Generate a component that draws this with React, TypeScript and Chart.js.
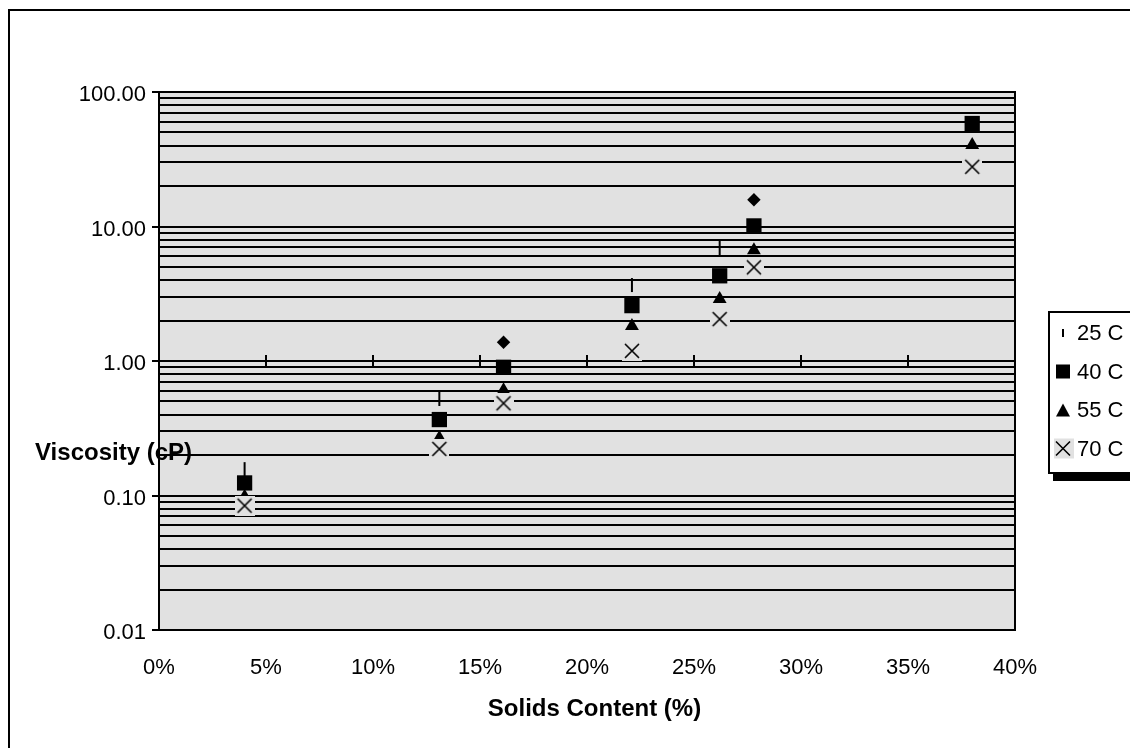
import React, { useEffect, useRef } from 'react';
import { Chart, registerables } from 'chart.js';

Chart.register(...registerables);

// ---- data ----
const SOLIDS_CONTENT = [0.04, 0.131, 0.161, 0.221, 0.262, 0.278, 0.38];
const VISC_25C = [0.157, 0.522, null, 3.67, 6.92, null, null];
const VISC_40C = [0.124, 0.367, 0.898, 2.58, 4.3, 10.1, 58.3];
const VISC_55C = [0.098, 0.268, 0.606, 1.82, 2.89, 6.65, 40.4];
const VISC_70C = [0.084, 0.222, 0.485, 1.19, 2.05, 4.97, 27.8];
const VISC_UNLISTED = [null, null, 1.38, null, null, 15.8, null];
const SERIES_LABELS = ['25 C', '40 C', '55 C', '70 C'];
const Y_MAJOR_TICKS = [0.01, 0.1, 1, 10, 100];
const Y_MINOR_MULTIPLIERS = [2, 3, 4, 5, 6, 7, 8, 9];
const X_MIN = 0;
const X_MAX = 0.4;
const X_STEP = 0.05;
const X_AXIS_CROSSES_AT = 1;
const Y_TITLE = 'Viscosity (cP)';
const X_TITLE = 'Solids Content (%)';

const FONT = '"Liberation Sans", Arial, sans-serif';
const PLOT_BG = '#e1e1e1';

const Y_TICK_VALUES: number[] = [];
Y_MAJOR_TICKS.forEach((m, i) => {
  Y_TICK_VALUES.push(m);
  if (i < Y_MAJOR_TICKS.length - 1) Y_MINOR_MULTIPLIERS.forEach((k) => Y_TICK_VALUES.push(m * k));
});

function toPoints(values: (number | null)[]) {
  const pts: { x: number; y: number }[] = [];
  values.forEach((v, i) => {
    if (v != null) pts.push({ x: SOLIDS_CONTENT[i], y: v });
  });
  return pts;
}

function isMajor(v: number) {
  const l = Math.log10(v);
  return Math.abs(l - Math.round(l)) < 1e-9;
}

function makeCrossMarker(): HTMLCanvasElement {
  const c = document.createElement('canvas');
  c.width = 20;
  c.height = 20;
  const g = c.getContext('2d')!;
  g.fillStyle = PLOT_BG;
  g.fillRect(0, 0, 20, 20);
  g.strokeStyle = '#000';
  g.lineWidth = 1.6;
  g.beginPath();
  g.moveTo(3, 3);
  g.lineTo(17, 17);
  g.moveTo(17, 3);
  g.lineTo(3, 17);
  g.stroke();
  return c;
}

const decorPlugin = {
  id: 'decor',
  beforeDraw(chart: any) {
    const { ctx, chartArea: a } = chart;
    ctx.save();
    ctx.fillStyle = PLOT_BG;
    ctx.fillRect(a.left, a.top, a.right - a.left, a.bottom - a.top);
    ctx.restore();
  },
  beforeDatasetsDraw(chart: any) {
    const { ctx, chartArea: a, scales } = chart;
    const x = scales.x;
    const y = scales.y;
    ctx.save();
    ctx.strokeStyle = '#000';
    ctx.lineWidth = 2;
    ctx.beginPath();
    // plot right border
    ctx.moveTo(a.right, a.top - 1);
    ctx.lineTo(a.right, a.bottom + 1);
    // y major tick marks (outside)
    Y_MAJOR_TICKS.forEach((v) => {
      const py = Math.round(y.getPixelForValue(v));
      ctx.moveTo(a.left - 7, py);
      ctx.lineTo(a.left, py);
    });
    // horizontal axis crossing at y = 1
    const cy = Math.round(y.getPixelForValue(X_AXIS_CROSSES_AT));
    ctx.moveTo(a.left, cy);
    ctx.lineTo(a.right, cy);
    for (let v = X_MIN + X_STEP; v < X_MAX - 1e-9; v += X_STEP) {
      const px = Math.round(x.getPixelForValue(v));
      ctx.moveTo(px, cy - 6);
      ctx.lineTo(px, cy + 6);
    }
    ctx.stroke();
    ctx.restore();
  },
  afterDraw(chart: any) {
    const { ctx } = chart;
    ctx.save();
    // outer frame (extends beyond the picture)
    ctx.fillStyle = '#000';
    ctx.fillRect(8, 9, 1130, 2);
    ctx.fillRect(8, 9, 2, 748);

    // titles
    ctx.fillStyle = '#000';
    ctx.font = `bold 24px ${FONT}`;
    ctx.textBaseline = 'alphabetic';
    ctx.textAlign = 'right';
    ctx.fillText(Y_TITLE, 192, 460);
    ctx.textAlign = 'center';
    ctx.fillText(X_TITLE, 594.5, 716);

    // legend box
    const LX = 1048;
    const LT = 311;
    const LB = 472;
    ctx.fillStyle = '#fff';
    ctx.fillRect(LX, LT, 1130 - LX, LB - LT);
    ctx.fillStyle = '#000';
    ctx.fillRect(LX, LT, 1130 - LX, 2);
    ctx.fillRect(LX, LT, 2, LB - LT + 2);
    ctx.fillRect(LX, LB, 1130 - LX, 2);
    ctx.fillRect(LX + 5, LB + 2, 1130 - LX, 7);

    const rows = [333, 371.5, 410, 448.5];
    const mx = 1063;
    // 25 C: short vertical bar
    ctx.fillRect(mx - 1, rows[0] - 4, 2, 8);
    // 40 C: square
    ctx.fillRect(mx - 7, rows[1] - 7, 14, 14);
    // 55 C: triangle
    ctx.beginPath();
    ctx.moveTo(mx, rows[2] - 6.5);
    ctx.lineTo(mx + 7, rows[2] + 6.5);
    ctx.lineTo(mx - 7, rows[2] + 6.5);
    ctx.closePath();
    ctx.fill();
    // 70 C: cross on grey box
    ctx.fillStyle = PLOT_BG;
    ctx.fillRect(mx - 9, rows[3] - 10, 20, 20);
    ctx.strokeStyle = '#000';
    ctx.lineWidth = 1.6;
    ctx.beginPath();
    ctx.moveTo(mx - 7, rows[3] - 7);
    ctx.lineTo(mx + 7, rows[3] + 7);
    ctx.moveTo(mx + 7, rows[3] - 7);
    ctx.lineTo(mx - 7, rows[3] + 7);
    ctx.stroke();

    ctx.fillStyle = '#000';
    ctx.font = `22px ${FONT}`;
    ctx.textAlign = 'left';
    ctx.textBaseline = 'middle';
    SERIES_LABELS.forEach((t, i) => ctx.fillText(t, 1077, rows[i] + 1));
    ctx.restore();
  },
};

export default function App() {
  const ref = useRef<HTMLCanvasElement | null>(null);

  useEffect(() => {
    if (!ref.current) return;
    const cross = makeCrossMarker();
    const base = { showLine: false, borderColor: '#000', backgroundColor: '#000' };
    const chart = new Chart(ref.current, {
      type: 'scatter',
      data: {
        datasets: [
          { ...base, label: SERIES_LABELS[0], data: toPoints(VISC_25C), pointStyle: 'line', rotation: 90, pointRadius: 7, borderWidth: 2, order: 3 },
          { ...base, label: SERIES_LABELS[1], data: toPoints(VISC_40C), pointStyle: 'rect', pointRadius: 10.8, borderWidth: 0, order: 2 },
          { ...base, label: SERIES_LABELS[2], data: toPoints(VISC_55C), pointStyle: 'triangle', pointRadius: 8, borderWidth: 0, order: 1 },
          { ...base, label: SERIES_LABELS[3], data: toPoints(VISC_70C), pointStyle: cross, pointRadius: 10, borderWidth: 0, order: 0 },
          { ...base, label: '', data: toPoints(VISC_UNLISTED), pointStyle: 'rectRot', pointRadius: 6.7, borderWidth: 0, order: 4 },
        ] as any,
      },
      options: {
        animation: false,
        responsive: false,
        devicePixelRatio: 1,
        events: [],
        layout: { padding: { left: 0, top: 92, right: 115, bottom: 0 } },
        plugins: { legend: { display: false }, tooltip: { enabled: false }, title: { display: false } },
        scales: {
          x: {
            type: 'linear',
            min: X_MIN,
            max: X_MAX,
            grid: { display: false, drawTicks: false },
            border: { display: false },
            ticks: {
              stepSize: X_STEP,
              padding: 25,
              color: '#000',
              font: { family: FONT, size: 22 },
              callback: (v: any) => Math.round(Number(v) * 100) + '%',
            },
            afterFit: (s: any) => {
              s.height = 118;
            },
          },
          y: {
            type: 'logarithmic',
            min: Y_MAJOR_TICKS[0],
            max: Y_MAJOR_TICKS[Y_MAJOR_TICKS.length - 1],
            grid: { color: '#000', lineWidth: 2, drawTicks: false },
            border: { display: true, color: '#000', width: 2 },
            afterBuildTicks: (s: any) => {
              s.ticks = Y_TICK_VALUES.map((v) => ({ value: v }));
            },
            ticks: {
              autoSkip: false,
              padding: 13,
              labelOffset: 3,
              color: '#000',
              font: { family: FONT, size: 22 },
              callback: (v: any) => (isMajor(Number(v)) ? Number(v).toFixed(2) : ''),
            },
            afterFit: (s: any) => {
              s.width = 159;
            },
          },
        },
      } as any,
      plugins: [decorPlugin],
    });
    return () => chart.destroy();
  }, []);

  return (
    <div style={{ position: 'fixed', left: 0, top: 0, width: 1130, height: 748, background: '#fff' }}>
      <canvas ref={ref} width={1130} height={748} style={{ display: 'block' }} />
    </div>
  );
}
